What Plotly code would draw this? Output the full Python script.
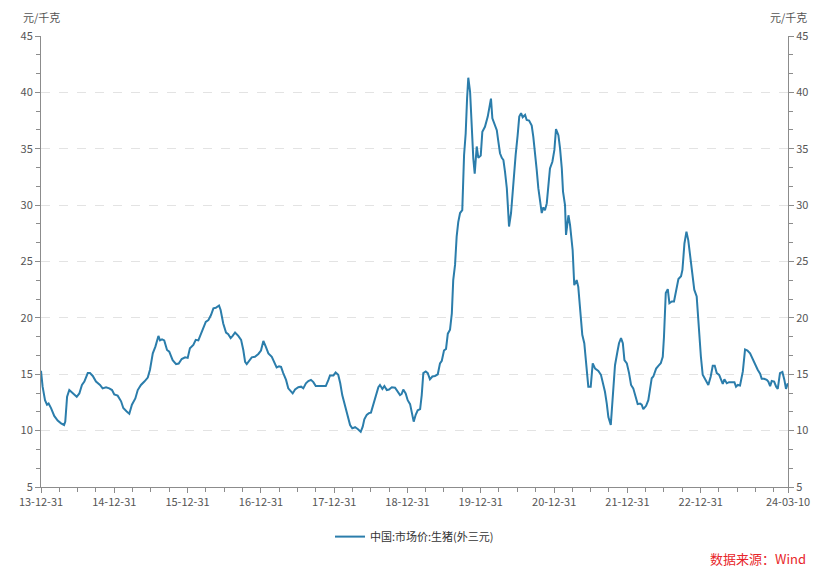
import pandas as pd
import plotly.graph_objects as go

# ---- data (days after 2013-12-31, price in 元/千克) ----
days = [0, 8, 20, 30, 38, 50, 66, 83, 100, 115, 121, 130, 141, 158, 178, 191, 204, 216, 233, 244,
        258, 274, 294, 307, 324, 340, 354, 365, 382, 399, 410, 427, 440, 453, 470, 482, 498, 515, 532, 543,
        557, 570, 585, 593, 603, 614, 628, 639, 656, 673, 686, 701, 718, 731, 742, 759, 771, 784, 797, 809,
        821, 834, 847, 859, 871, 887, 895, 908, 922, 933, 945, 955, 967, 983, 997, 1008, 1017, 1025, 1036, 1050,
        1066, 1083, 1096, 1108, 1120, 1133, 1150, 1161, 1174, 1186, 1196, 1207, 1221, 1232, 1244, 1254, 1266, 1282, 1296, 1307,
        1320, 1332, 1345, 1357, 1369, 1382, 1399, 1419, 1432, 1440, 1457, 1468, 1481, 1491, 1501, 1515, 1528, 1540, 1551, 1565,
        1578, 1593, 1603, 1611, 1623, 1634, 1644, 1656, 1668, 1681, 1689, 1701, 1711, 1723, 1734, 1748, 1764, 1777, 1789, 1797,
        1805, 1817, 1827, 1839, 1847, 1857, 1867, 1877, 1889, 1897, 1905, 1917, 1927, 1938, 1950, 1963, 1977, 1988, 1997, 2008,
        2018, 2027, 2038, 2047, 2054, 2063, 2071, 2079, 2088, 2099, 2108, 2116, 2123, 2129, 2138, 2146, 2154, 2161, 2171, 2179,
        2191, 2199, 2212, 2226, 2234, 2242, 2249, 2259, 2271, 2279, 2287, 2296, 2304, 2312, 2321, 2326, 2332, 2342, 2353, 2365,
        2375, 2383, 2392, 2400, 2412, 2420, 2432, 2445, 2453, 2462, 2470, 2478, 2487, 2495, 2503, 2511, 2520, 2528, 2536, 2548,
        2558, 2566, 2578, 2586, 2595, 2601, 2611, 2616, 2628, 2636, 2644, 2649, 2657, 2669, 2677, 2686, 2697, 2707, 2719, 2727,
        2739, 2749, 2761, 2777, 2790, 2802, 2810, 2819, 2827, 2839, 2849, 2860, 2872, 2880, 2890, 2899, 2907, 2919, 2930, 2940,
        2951, 2963, 2973, 2985, 2993, 3001, 3015, 3026, 3035, 3043, 3051, 3065, 3076, 3088, 3098, 3104, 3113, 3123, 3131, 3143,
        3154, 3164, 3176, 3189, 3196, 3206, 3216, 3225, 3237, 3247, 3255, 3267, 3275, 3281, 3288, 3297, 3309, 3325, 3337, 3347,
        3357, 3367, 3379, 3387, 3397, 3405, 3417, 3428, 3442, 3455, 3463, 3472, 3483, 3497, 3508, 3520, 3533, 3546, 3558, 3571,
        3583, 3591, 3603, 3616, 3624, 3633, 3641, 3653, 3663, 3671, 3682, 3694, 3704, 3712, 3721]

prices = [15.3, 13.9, 12.7, 12.3, 12.4, 12.0, 11.3, 10.9, 10.65, 10.5, 10.8, 13.0, 13.6, 13.3, 13.0, 13.3, 14.05, 14.35, 15.1, 15.1,
          14.85, 14.35, 14.05, 13.75, 13.85, 13.75, 13.6, 13.2, 13.1, 12.6, 12.0, 11.7, 11.5, 12.3, 12.85, 13.6, 14.05, 14.35, 14.7, 15.4,
          16.85, 17.45, 18.4, 18.0, 18.1, 18.0, 17.15, 17.0, 16.25, 15.9, 15.95, 16.35, 16.5, 16.45, 17.3, 17.6, 18.05, 18.0, 18.6, 19.05,
          19.65, 19.8, 20.25, 20.85, 20.9, 21.1, 20.7, 19.5, 18.7, 18.55, 18.2, 18.4, 18.7, 18.4, 18.05, 17.15, 16.1, 15.9, 16.2, 16.5,
          16.55, 16.8, 17.1, 17.95, 17.45, 16.85, 16.55, 16.1, 15.6, 15.7, 15.65, 15.1, 14.5, 13.75, 13.45, 13.3, 13.65, 13.85, 13.9, 13.75,
          14.2, 14.4, 14.5, 14.3, 13.95, 13.95, 13.9, 13.95, 14.5, 14.9, 14.9, 15.15, 14.95, 14.2, 13.15, 12.25, 11.4, 10.5, 10.2, 10.3,
          10.15, 9.9, 10.35, 11.0, 11.4, 11.55, 11.6, 12.3, 13.0, 13.85, 14.05, 13.7, 13.95, 13.6, 13.65, 13.85, 13.8, 13.45, 13.15, 13.25,
          13.65, 13.3, 12.7, 12.35, 11.7, 10.8, 11.4, 11.8, 11.9, 13.15, 15.1, 15.25, 15.1, 14.55, 14.8, 14.85, 15.0, 15.97, 16.2, 17.1,
          17.25, 18.6, 18.95, 20.4, 23.35, 24.7, 27.2, 28.5, 29.3, 29.55, 34.45, 36.35, 39.45, 41.3, 40.05, 36.5, 34.15, 32.8, 35.2, 34.2,
          34.4, 36.5, 36.95, 37.85, 38.6, 39.45, 37.7, 37.25, 36.65, 35.6, 34.6, 34.2, 34.0, 32.95, 31.5, 30.0, 28.1, 29.3, 32.1, 34.45,
          36.2, 37.85, 38.15, 37.8, 38.0, 37.55, 37.5, 37.05, 36.05, 34.75, 33.1, 31.5, 30.15, 29.3, 29.8, 29.55, 30.15, 31.5, 33.25, 33.85,
          34.9, 36.75, 36.2, 35.05, 33.25, 31.2, 30.0, 27.35, 29.1, 28.25, 26.75, 26.0, 22.9, 23.35, 22.75, 20.4, 18.5, 17.75, 15.7, 13.9,
          13.9, 15.97, 15.5, 15.3, 14.95, 14.05, 13.45, 12.4, 11.2, 10.5, 13.0, 15.8, 17.0, 17.75, 18.2, 17.75, 16.25, 15.97, 15.1, 14.05,
          13.75, 13.0, 12.35, 12.4, 12.3, 11.9, 12.2, 12.7, 13.6, 14.65, 14.8, 15.5, 15.75, 15.97, 16.55, 18.3, 22.2, 22.55, 21.3, 21.45,
          21.45, 22.5, 23.45, 23.7, 24.25, 26.6, 27.65, 26.9, 25.3, 23.95, 22.5, 21.9, 19.8, 18.0, 16.55, 14.95, 14.5, 14.05, 14.8, 15.75,
          15.75, 15.1, 14.95, 14.5, 14.15, 14.55, 14.2, 14.3, 14.3, 14.3, 13.9, 14.05, 14.0, 15.25, 17.2, 17.1, 16.85, 16.35, 15.8, 15.4,
          15.05, 14.6, 14.6, 14.5, 14.35, 13.95, 14.4, 14.35, 13.9, 13.7, 15.1, 15.2, 14.5, 13.7, 14.2]

start_date = "2013-12-31"
end_date = "2024-03-10"
series_name = "中国:市场价:生猪(外三元)"
tick_dates = ["2013-12-31", "2014-12-31", "2015-12-31", "2016-12-31", "2017-12-31", "2018-12-31",
              "2019-12-31", "2020-12-31", "2021-12-31", "2022-12-31", "2024-03-10"]
tick_labels = ["13-12-31", "14-12-31", "15-12-31", "16-12-31", "17-12-31", "18-12-31",
               "19-12-31", "20-12-31", "21-12-31", "22-12-31", "24-03-10"]
y_ticks = [5, 10, 15, 20, 25, 30, 35, 40, 45]

dates = pd.Timestamp(start_date) + pd.to_timedelta(days, unit="D")
minor_dates = [d for d in pd.date_range(start_date, end_date, freq="QE")]

FONT = "Noto Sans CJK SC, Microsoft YaHei, sans-serif"
AXC = "#8c8c8c"
TXT = "#555555"
LINE = "#2b7dab"

fig = go.Figure()
fig.add_trace(go.Scatter(x=dates, y=prices, mode="lines", name=series_name,
                         line=dict(color=LINE, width=2), yaxis="y"))
fig.add_trace(go.Scatter(x=dates, y=prices, mode="lines", showlegend=False, hoverinfo="skip",
                         line=dict(color="rgba(0,0,0,0)", width=0), yaxis="y2"))

fig.update_layout(
    width=822, height=570,
    margin=dict(l=33, r=42, t=28, b=91, autoexpand=False),
    paper_bgcolor="white", plot_bgcolor="white",
    font=dict(family=FONT, size=11, color=TXT),
    showlegend=True,
    legend=dict(orientation="h", x=0.5, xanchor="center", y=-0.11, yanchor="middle",
                font=dict(size=11, color="#333333")),
    xaxis=dict(
        type="date", range=[start_date, end_date], automargin=False,
        tickmode="array", tickvals=tick_dates, ticktext=tick_labels,
        showline=True, linecolor=AXC, linewidth=1,
        ticks="outside", ticklen=5, tickcolor=AXC,
        showgrid=False, zeroline=False,
        tickfont=dict(size=11, color=TXT),
        minor=dict(tickmode="array", tickvals=minor_dates, ticks="outside", ticklen=4, tickcolor=AXC, showgrid=False),
    ),
    yaxis=dict(
        range=[5, 45], tickmode="array", tickvals=y_ticks, automargin=False,
        showline=True, linecolor=AXC, linewidth=1,
        ticks="outside", ticklen=5, tickcolor=AXC,
        showgrid=True, gridcolor="#e3e3e3", griddash="dash", gridwidth=1,
        zeroline=False, tickfont=dict(size=11, color=TXT),
        minor=dict(dtick=5 / 3, tick0=5, ticks="outside", ticklen=4, tickcolor=AXC, showgrid=False),
    ),
    yaxis2=dict(
        range=[5, 45], overlaying="y", side="right", tickmode="array", tickvals=y_ticks, automargin=False,
        showline=True, linecolor=AXC, linewidth=1,
        ticks="outside", ticklen=5, tickcolor=AXC,
        showgrid=False, zeroline=False, tickfont=dict(size=11, color=TXT),
        minor=dict(dtick=5 / 3, tick0=5, ticks="outside", ticklen=4, tickcolor=AXC, showgrid=False),
    ),
    annotations=[
        dict(text="元/千克", x=0, y=1.042, xref="paper", yref="paper", xanchor="center", yanchor="middle",
             showarrow=False, font=dict(size=11, color=TXT)),
        dict(text="元/千克", x=1, y=1.042, xref="paper", yref="paper", xanchor="center", yanchor="middle",
             showarrow=False, font=dict(size=11, color=TXT)),
        dict(text="数据来源：Wind", x=1.027, y=-0.158, xref="paper", yref="paper", xanchor="right", yanchor="middle",
             showarrow=False, font=dict(size=13, color="#e8262a")),
    ],
)

fig.write_html("out.html")
